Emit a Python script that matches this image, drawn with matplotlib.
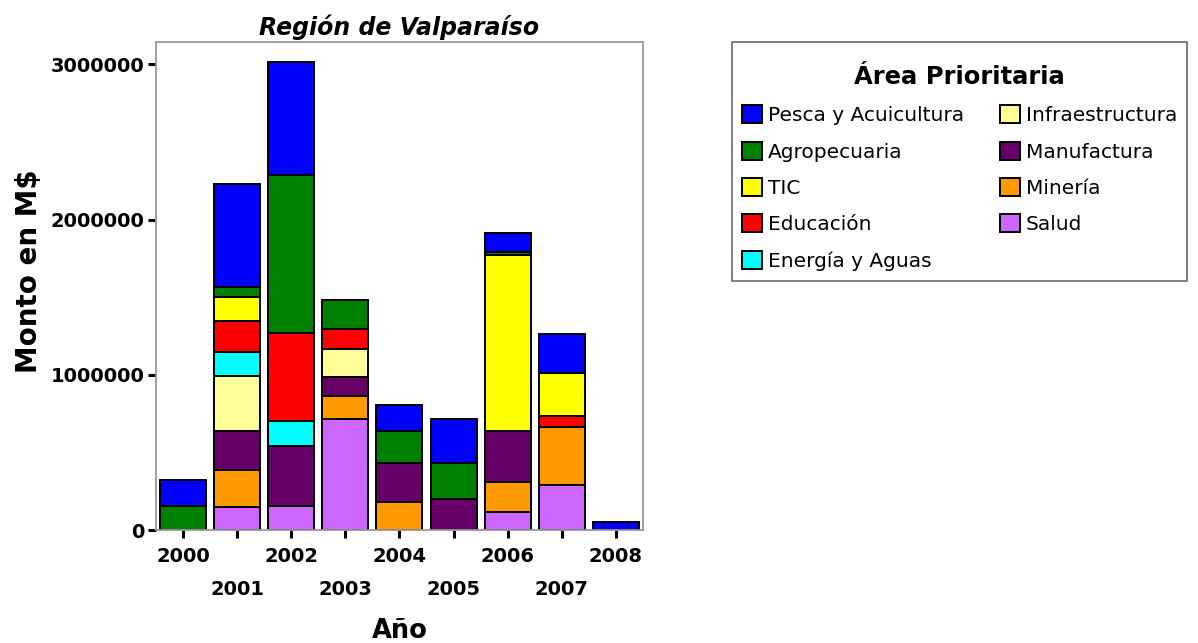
import numpy as np
import matplotlib
matplotlib.use("Agg")
import matplotlib.pyplot as plt

# Datos (montos en M$)
years = ["2000", "2001", "2002", "2003", "2004", "2005", "2006", "2007", "2008"]

# orden de apilamiento de abajo hacia arriba
salud           = [0,      146000, 157000, 716000, 0,      0,      114000, 290000, 0]
mineria         = [0,      241000, 0,      150000, 183000, 0,      198000, 372000, 0]
manufactura     = [0,      249000, 382000, 123000, 247000, 200000, 329000, 0,      0]
infraestructura = [0,      359000, 0,      179000, 0,      0,      0,      0,      0]
energia         = [0,      155000, 166000, 0,      0,      0,      0,      0,      0]
educacion       = [0,      196000, 566000, 124000, 0,      0,      0,      75000,  0]
tic             = [0,      155000, 0,      0,      0,      0,      1129000, 273000, 0]
agropecuaria    = [157000, 64000,  1015000, 187000, 211000, 230000, 21000, 0,      0]
pesca           = [165000, 667000, 731000, 0,      163000, 286000, 125000, 255000, 49000]

series = [
    ("Salud", salud, "#CC66FF"),
    ("Minería", mineria, "#FF9900"),
    ("Manufactura", manufactura, "#660066"),
    ("Infraestructura", infraestructura, "#FFFF99"),
    ("Energía y Aguas", energia, "#00FFFF"),
    ("Educación", educacion, "#FF0000"),
    ("TIC", tic, "#FFFF00"),
    ("Agropecuaria", agropecuaria, "#008000"),
    ("Pesca y Acuicultura", pesca, "#0000FF"),
]
legend_order = ["Pesca y Acuicultura", "Agropecuaria", "TIC", "Educación",
                "Energía y Aguas", "Infraestructura", "Manufactura", "Minería", "Salud"]

plt.rcParams['font.family'] = ['DejaVu Sans']

fig = plt.figure(figsize=(11.98, 6.43), dpi=100)
ax = fig.add_axes([0.1302, 0.1757, 0.4065, 0.759])

x = np.arange(len(years))
bottom = np.zeros(len(years))
handles = {}
for name, vals, color in series:
    vals = np.array(vals, dtype=float)
    bars = ax.bar(x, vals, width=0.85, bottom=bottom, color=color,
                  edgecolor="black", linewidth=1.4, label=name)
    handles[name] = bars
    bottom += vals

ax.set_xlim(-0.5, 8.5)
ax.set_ylim(0, 3144000)
ax.set_yticks([0, 1000000, 2000000, 3000000])
ax.set_yticklabels(["0", "1000000", "2000000", "3000000"], fontsize=14, fontweight="bold")

# años pares en la primera fila, impares en la segunda
ax.set_xticks(x[::2])
ax.set_xticklabels(years[::2], fontsize=14, fontweight="bold")
ax.set_xticks(x[1::2], minor=True)
ax.set_xticklabels(years[1::2], minor=True, fontsize=14, fontweight="bold")

ax.tick_params(axis="both", which="both", direction="out", length=6, width=2.2, color="black")
ax.tick_params(axis="x", which="major", pad=6)
ax.tick_params(axis="x", which="minor", pad=30)
ax.tick_params(axis="y", pad=2)

for s in ax.spines.values():
    s.set_color("#999999")
    s.set_linewidth(1.3)

ax.set_title("Región de Valparaíso", fontsize=17, fontweight="bold", style="italic", pad=5)
ax.set_ylabel("Monto en M$", fontsize=20, fontweight="bold")
ax.yaxis.set_label_coords(-0.232, 0.53)
ax.set_xlabel("Año", fontsize=18.5, fontweight="bold", labelpad=14)

leg = fig.legend([handles[n] for n in legend_order], legend_order, ncol=2,
                 loc="upper left", bbox_to_anchor=(0.611, 0.9347), borderaxespad=0,
                 title="\nÁrea Prioritaria", fontsize=14.5,
                 title_fontproperties={"weight": "bold", "size": 17.5},
                 frameon=True, fancybox=False, edgecolor="#444444",
                 handlelength=1.0, handleheight=1.0, handletextpad=0.3,
                 columnspacing=1.75, labelspacing=0.82, borderpad=0.5)
leg.get_title().set_linespacing(0.4)
leg.get_frame().set_linewidth(1.2)

fig.savefig("out.png", dpi=100)
